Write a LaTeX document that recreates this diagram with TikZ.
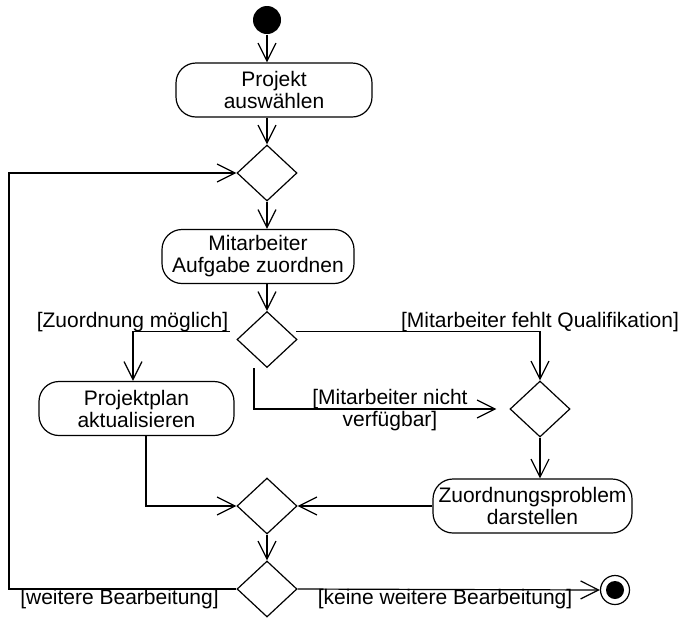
\documentclass[tikz,border=0pt]{standalone}
\usepackage{fontspec}
\setmainfont{Liberation Sans}
\usetikzlibrary{shapes.geometric,arrows.meta}
\newcommand\lblfont{\fontsize{21}{22}\selectfont}
\tikzset{
  every path/.style={line width=1.2pt},
  >={Straight Barb[length=18pt,width=18pt]},
  act/.style={draw, rectangle, rounded corners=20pt, minimum height=54pt, align=center, font=\lblfont, inner sep=0pt, line width=1.2pt},
  dec/.style={draw, diamond, minimum width=60pt, minimum height=56pt, inner sep=0pt, line width=1.2pt},
  guard/.style={font=\lblfont, inner sep=0pt, align=center},
}
\begin{document}
\begin{tikzpicture}[x=1pt,y=-1pt]
\useasboundingbox[fill=white] (0,0) rectangle (684,619);

% nodes
\node[circle, fill=black, minimum size=28pt, inner sep=0pt] (start) at (267,20) {};
\node[act, minimum width=196pt] (a1) at (274,90) {Projekt\\auswählen};
\node[dec] (d1) at (267,173) {};
\node[act, minimum width=192pt] (a2) at (258,256.5) {Mitarbeiter\\Aufgabe zuordnen};
\node[dec] (d2) at (267,339.5) {};
\node[act, minimum width=195pt] (a3) at (136.5,408.5) {Projektplan\\aktualisieren};
\node[dec] (d3) at (540,409) {};
\node[act, minimum width=199pt] (a4) at (532.5,506) {Zuordnungsproblem\\darstellen};
\node[dec] (d4) at (267,506) {};
\node[dec] (d5) at (267,589) {};
\node[circle, draw, minimum size=29pt, inner sep=0pt, line width=1.2pt] (end) at (615,590) {};
\fill[black] (end.center) circle (9pt);

\coordinate (loopL) at (9,173);

% guards
\node[guard, anchor=base] (g1) at (132.5,327) {[Zuordnung möglich]};
\node[guard, anchor=base] (g2) at (540,327) {[Mitarbeiter fehlt Qualifikation]};
\node[guard] (g3) at (390,410.5) {[Mitarbeiter nicht\\verfügbar]};
\node[guard, anchor=base] (g4) at (119.5,604) {[weitere Bearbeitung]};
\node[guard, anchor=base] (g5) at (445,604) {[keine weitere Bearbeitung]};

% connectors
\draw[->] (start.south) -- (start.south |- a1.north);
\draw[->] (a1.south -| d1.north) -- (d1.north);
\draw[->] (d1.south) -- (d1.south |- a2.north);
\draw[->] (a2.south -| d2.north) -- (d2.north);
\draw[->] ([xshift=-15pt]d2.160) -| ([xshift=-3.5pt]a3.north);
\draw[->] ([xshift=7pt]d2.20) -| (d3.north);
\draw[->] ([xshift=-13pt]d2.south) |- ([xshift=-13pt]d3.west);
\draw[->] (d3.south) -- (d3.south |- a4.north);
\draw[->] ([xshift=9.5pt]a3.south) |- (d4.west);
\draw[->] (a4.west) -- (d4.east);
\draw[->] (d4.south) -- (d5.north);
\draw[->] (d5.east) -- (end.west);
\draw[->] (d5.west) -| (loopL) -- (d1.west);
\end{tikzpicture}
\end{document}
